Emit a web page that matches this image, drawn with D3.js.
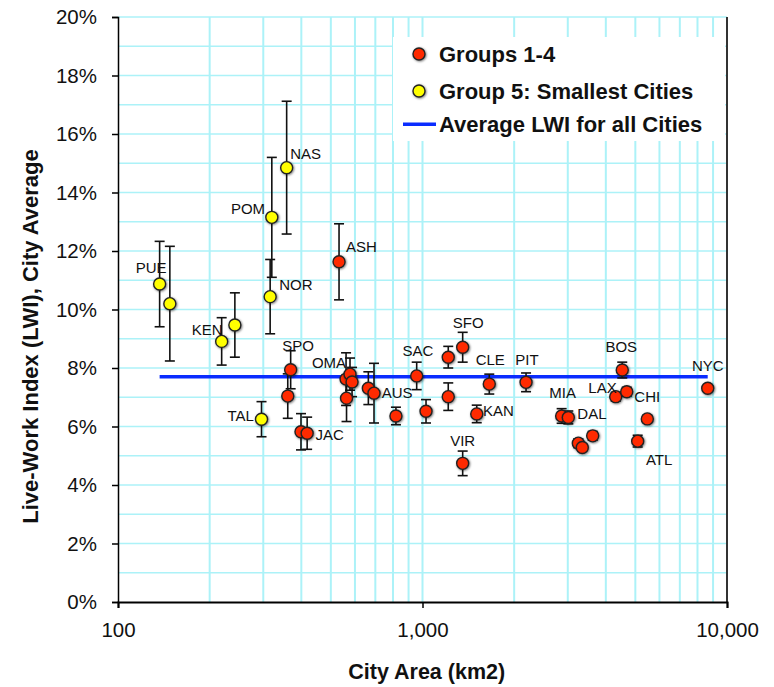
<!DOCTYPE html>
<html>
<head>
<meta charset="utf-8">
<script src="https://cdn.jsdelivr.net/npm/d3@7"></script>
<style>
  html, body { margin: 0; padding: 0; background: #fff; }
  svg { display: block; font-family: "Liberation Sans", Arial, Helvetica, sans-serif; }
</style>
</head>
<body>
<svg id="chart" width="774" height="687"></svg>
<script>
// ---- Data: city area (km2), average Live-Work Index, and its error range ----
const smallNames = ["PUE", "", "KEN", "", "TAL", "POM", "NOR", "NAS"];
const smallArea  = [137, 148, 219, 242, 296, 320, 316, 358];
const smallLWI   = [10.87, 10.20, 8.91, 9.47, 6.25, 13.15, 10.44, 14.85];
const smallErr   = [1.46, 1.96, 0.81, 1.10, 0.60, 2.05, 1.27, 2.27];

const mainNames = ["ASH", "SPO", "", "", "JAC", "OMA", "", "", "", "", "AUS", "", "SAC", "",
                   "", "", "SFO", "VIR", "KAN", "CLE", "PIT", "MIA", "DAL", "", "", "",
                   "BOS", "LAX", "CHI", "", "ATL", "NYC"];
const mainArea  = [532, 369, 361, 399, 418, 561, 578, 587, 563, 664, 693, 818, 957, 1027,
                   1215, 1215, 1355, 1355, 1507, 1657, 2188, 2864, 3012, 3249, 3348, 3622,
                   4529, 4311, 4685, 5474, 5089, 8643];
const mainLWI   = [11.63, 7.94, 7.04, 5.82, 5.77, 7.62, 7.79, 7.52, 6.97, 7.31, 7.14, 6.36, 7.73, 6.52,
                   8.37, 7.02, 8.71, 4.74, 6.43, 7.45, 7.51, 6.36, 6.31, 5.43, 5.28, 5.68,
                   7.93, 7.02, 7.19, 6.26, 5.50, 7.31];
const mainErr   = [1.30, 0.65, 0.76, 0.62, 0.55, 0.90, 0.55, 0.50, 0.80, 0.56, 1.02, 0.30, 0.47, 0.40,
                   0.37, 0.47, 0.51, 0.42, 0.30, 0.34, 0.32, 0.25, 0.22, 0.15, 0.12, 0.15,
                   0.27, 0.15, 0.15, 0.12, 0.20, 0.10];

const averageLWI = 7.70;

const xTickValues = [100, 1000, 10000];
const yTickValues = [0, 2, 4, 6, 8, 10, 12, 14, 16, 18, 20];

const legendLabels = ["Groups 1-4", "Group 5: Smallest Cities", "Average LWI for all Cities"];

// ---- Label placement (anchor, dx, dy from the marker centre) ----
const labelPlacement = {
  PUE: ["end", 7, -16],   NAS: ["start", 3.5, -14.4], POM: ["end", -6.7, -8.3],
  NOR: ["start", 9, -12.4], ASH: ["start", 7, -15],  KEN: ["end", 1, -11.3],
  SPO: ["start", -8.4, -24], OMA: ["end", 0, -16.3], TAL: ["end", -7.7, -3.3],
  JAC: ["start", 8.4, 1],  AUS: ["start", 7.7, -0.6], SAC: ["middle", 1.2, -25],
  SFO: ["middle", 5.5, -25], CLE: ["middle", 1, -24], PIT: ["middle", 1, -23],
  KAN: ["start", 6.3, -3], VIR: ["middle", 0, -22.6], MIA: ["middle", 1, -23.3],
  DAL: ["start", 9, -3.3], BOS: ["middle", -1, -23.3], LAX: ["end", 1, -9.4],
  CHI: ["start", 7.6, 5],  ATL: ["start", 8.3, 18.3], NYC: ["middle", 0, -22.6]
};

const toRecords = (names, area, lwi, err) =>
  names.map((n, i) => ({ name: n, area: area[i], lwi: lwi[i], err: err[i] }));
const smallCities = toRecords(smallNames, smallArea, smallLWI, smallErr);
const mainCities  = toRecords(mainNames, mainArea, mainLWI, mainErr);

// ---- Layout ----
const W = 774, H = 687;
const margin = { top: 17, right: 47, bottom: 85, left: 118 };
const innerW = W - margin.left - margin.right;
const innerH = H - margin.top - margin.bottom;

const svg = d3.select("#chart");
const defs = svg.append("defs");
const shadow = defs.append("filter").attr("id", "mshadow")
  .attr("x", "-50%").attr("y", "-50%").attr("width", "200%").attr("height", "200%");
shadow.append("feDropShadow").attr("dx", 0.8).attr("dy", 0.8)
  .attr("stdDeviation", 0.9).attr("flood-color", "#000").attr("flood-opacity", 0.55);

const g = svg.append("g").attr("transform", `translate(${margin.left},${margin.top})`);

const x = d3.scaleLog().domain([100, 10000]).range([0, innerW]);
const y = d3.scaleLinear().domain([0, 20]).range([innerH, 0]);

const gridColor = "#acf2f8";

// Vertical grid at every log subdivision
const xGrid = x.ticks().filter(v => v > 100 && v < 10000);
g.append("g").selectAll("line").data(xGrid).join("line")
  .attr("x1", d => x(d)).attr("x2", d => x(d))
  .attr("y1", 0).attr("y2", innerH)
  .attr("stroke", gridColor).attr("stroke-width", 2);

// Horizontal grid at every 1%
const yGrid = d3.range(1, 21);
g.append("g").selectAll("line").data(yGrid).join("line")
  .attr("x1", 0).attr("x2", innerW)
  .attr("y1", d => y(d)).attr("y2", d => y(d))
  .attr("stroke", gridColor).attr("stroke-width", 1.5);

// Right frame edge
g.append("line").attr("x1", innerW).attr("x2", innerW).attr("y1", 0).attr("y2", innerH)
  .attr("stroke", "#333").attr("stroke-width", 2);

// Axes
const yAxis = g.append("g")
  .call(d3.axisLeft(y).tickValues(yTickValues).tickFormat(d => d + "%").tickSize(6).tickPadding(15));
yAxis.select(".domain").attr("stroke", "#000").attr("stroke-width", 1.5);
yAxis.selectAll(".tick line").attr("stroke", "#000").attr("stroke-width", 1.5);
yAxis.selectAll(".tick text").attr("font-size", 20.5).attr("fill", "#111")
  .attr("font-family", "'Liberation Sans', Arial, sans-serif");

const xAxis = g.append("g").attr("transform", `translate(0,${innerH})`)
  .call(d3.axisBottom(x).tickValues(xTickValues).tickFormat(d3.format(",")).tickSize(6).tickPadding(14));
xAxis.select(".domain").attr("stroke", "#000").attr("stroke-width", 2);
xAxis.selectAll(".tick line").attr("stroke", "#000").attr("stroke-width", 1.5);
xAxis.selectAll(".tick text").attr("font-size", 20.5).attr("fill", "#111")
  .attr("font-family", "'Liberation Sans', Arial, sans-serif");

// Axis titles
svg.append("text")
  .attr("x", 426.7).attr("y", 679)
  .attr("text-anchor", "middle")
  .attr("font-size", 21.5).attr("font-weight", "bold").attr("fill", "#111")
  .text("City Area (km2)");

svg.append("text")
  .attr("transform", "translate(37.5,336.5) rotate(-90)")
  .attr("text-anchor", "middle")
  .attr("font-size", 22).attr("font-weight", "bold").attr("fill", "#111")
  .text("Live-Work Index (LWI), City Average");

// Average line across the range of city areas
const allAreas = smallArea.concat(mainArea);
g.append("line")
  .attr("x1", x(d3.min(allAreas))).attr("x2", x(d3.max(allAreas)))
  .attr("y1", y(averageLWI)).attr("y2", y(averageLWI))
  .attr("stroke", "#0a2cff").attr("stroke-width", 3.5);

// Error bars + markers
const capHalf = 5;
function drawSeries(data, fill) {
  const eb = g.append("g").attr("stroke", "#111").attr("stroke-width", 1.6);
  eb.selectAll("line.v").data(data).join("line").attr("class", "v")
    .attr("x1", d => x(d.area)).attr("x2", d => x(d.area))
    .attr("y1", d => y(d.lwi + d.err)).attr("y2", d => y(d.lwi - d.err));
  eb.selectAll("line.t").data(data).join("line").attr("class", "t")
    .attr("x1", d => x(d.area) - capHalf).attr("x2", d => x(d.area) + capHalf)
    .attr("y1", d => y(d.lwi + d.err)).attr("y2", d => y(d.lwi + d.err));
  eb.selectAll("line.b").data(data).join("line").attr("class", "b")
    .attr("x1", d => x(d.area) - capHalf).attr("x2", d => x(d.area) + capHalf)
    .attr("y1", d => y(d.lwi - d.err)).attr("y2", d => y(d.lwi - d.err));
  g.append("g").selectAll("circle").data(data).join("circle")
    .attr("cx", d => x(d.area)).attr("cy", d => y(d.lwi)).attr("r", 6)
    .attr("fill", fill).attr("stroke", "#222").attr("stroke-width", 1.4)
    .attr("filter", "url(#mshadow)");
}
drawSeries(smallCities, "#ffff00");
drawSeries(mainCities, "#ff2a00");

// City labels
const labelled = smallCities.concat(mainCities).filter(d => d.name && labelPlacement[d.name]);
g.append("g").selectAll("text").data(labelled).join("text")
  .attr("x", d => x(d.area) + labelPlacement[d.name][1])
  .attr("y", d => y(d.lwi) + labelPlacement[d.name][2] + 5.3)
  .attr("text-anchor", d => labelPlacement[d.name][0])
  .attr("font-size", 15).attr("fill", "#111")
  .text(d => d.name);

// Legend
const legend = svg.append("g");
legend.append("rect").attr("x", 393).attr("y", 37).attr("width", 332).attr("height", 104)
  .attr("fill", "#fff");
const legendRows = [54, 91, 124.3];
legend.append("circle").attr("cx", 419).attr("cy", legendRows[0]).attr("r", 6)
  .attr("fill", "#ff2a00").attr("stroke", "#222").attr("stroke-width", 1.4).attr("filter", "url(#mshadow)");
legend.append("circle").attr("cx", 419).attr("cy", legendRows[1]).attr("r", 6)
  .attr("fill", "#ffff00").attr("stroke", "#222").attr("stroke-width", 1.4).attr("filter", "url(#mshadow)");
legend.append("line").attr("x1", 403).attr("x2", 436)
  .attr("y1", legendRows[2]).attr("y2", legendRows[2])
  .attr("stroke", "#0a2cff").attr("stroke-width", 3.5);
legend.selectAll("text").data(legendLabels).join("text")
  .attr("x", 439).attr("y", (d, i) => legendRows[i] + 7.8)
  .attr("font-size", 22).attr("font-weight", "bold").attr("fill", "#111")
  .text(d => d);
</script>
</body>
</html>
